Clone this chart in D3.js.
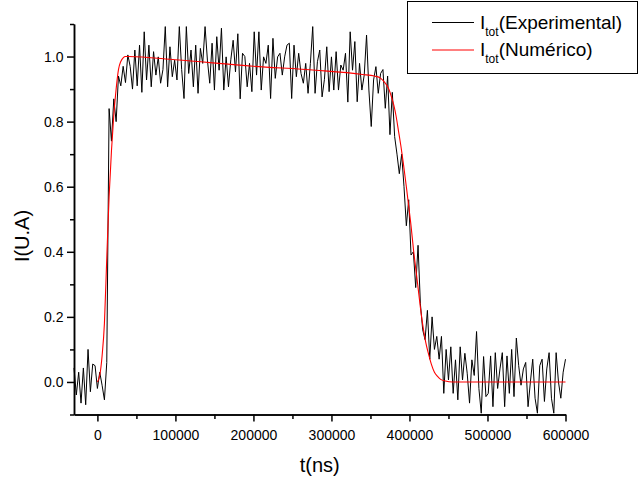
<!DOCTYPE html>
<html>
<head>
<meta charset="utf-8">
<script src="https://cdn.jsdelivr.net/npm/d3@7"></script>
<style>
  body { margin: 0; background: #fff; }
  svg { display: block; font-family: "Liberation Sans", Arial, sans-serif; }
</style>
</head>
<body>
<script>
const width = 639;
const height = 485;

// experimental samples, one every 3000 ns starting at -30000 ns
const expStart = -30000;
const expStep = 3000;
const expValues = [
  0.043, -0.04, 0.03, -0.065, 0.043, -0.07, 0.10, -0.03, 0.055, 0.05,
  -0.02, 0.03, -0.01, -0.055, 0.06, 0.84, 0.74, 0.87, 0.80, 0.94,
  0.91, 0.97, 0.92, 1.005, 0.97, 0.90, 1.02, 0.91, 1.035, 0.89,
  1.076, 0.928, 1.035, 0.907, 1.015, 0.943, 0.999, 0.918, 0.96, 1.092,
  0.907, 1.03, 0.938, 0.989, 0.928, 1.092, 0.96, 0.871, 1.092, 0.948,
  1.02, 0.907, 1.035, 0.887, 1.025, 0.979, 1.092, 0.989, 0.918, 1.041,
  0.897, 1.061, 0.958, 1.087, 0.897, 0.999, 0.907, 0.99, 1.05, 0.953,
  1.07, 0.87, 1.01, 1.00, 0.907, 0.979, 0.892, 1.076, 0.943, 1.076,
  0.897, 0.999, 0.979, 1.035, 0.871, 1.056, 0.933, 0.999, 1.01, 0.943,
  0.999, 1.035, 1.041, 0.871, 1.035, 0.938, 1.01, 0.948, 0.918, 0.979,
  0.887, 0.979, 1.092, 0.887, 0.984, 1.02, 0.876, 0.93, 1.03, 0.892,
  0.999, 0.897, 1.015, 0.897, 0.974, 0.958, 1.01, 0.86, 1.076, 0.958,
  1.046, 0.861, 0.979, 0.897, 0.943, 1.066, 0.897, 0.785, 0.928, 0.969,
  0.887, 0.948, 0.96, 0.841, 0.94, 0.76, 0.89, 0.754, 0.70, 0.64,
  0.70, 0.60, 0.48, 0.56, 0.39, 0.40, 0.29, 0.42, 0.24, 0.16,
  0.13, 0.22, 0.07, 0.20, 0.10, 0.14, 0.07, 0.14, -0.035, 0.10,
  0.006, 0.108, -0.035, 0.068, -0.055, 0.108, 0.006, 0.088, 0.027, -0.065,
  0.068, 0.02, 0.155, -0.02, -0.096, 0.078, -0.045, -0.035, 0.08, -0.076,
  0.09, -0.02, 0.04, 0.09, -0.076, 0.08, -0.035, 0.10, -0.045, 0.135,
  0.05, -0.01, 0.04, 0.06, -0.076, 0.0, 0.07, -0.05, -0.096, 0.05,
  0.07, -0.06, 0.04, 0.09, -0.05, -0.096, 0.09, 0.0, -0.05, 0.03,
  0.07
];

// numerical curve
const numTimes = [
  0, 3000, 6000, 9000, 12000, 15000, 18000, 21000, 24000, 27000, 30000, 33000, 36000,
  40000, 100000, 200000, 280000, 340000, 355000, 362000, 366000, 370000, 374000,
  377000, 380000, 383000, 386000, 389000, 392000, 396000, 399000, 402000, 405000,
  409000, 412000, 415000, 418000, 421000, 424000, 428000, 432000, 436000, 440000,
  446000, 455000, 600000
];
const numValues = [
  0, 0.02, 0.08, 0.18, 0.38, 0.57, 0.71, 0.82, 0.9, 0.96, 0.985, 0.996, 1.0,
  1.0, 0.99, 0.97, 0.958, 0.945, 0.94, 0.935, 0.927, 0.915, 0.897,
  0.875, 0.85, 0.815, 0.77, 0.725, 0.675, 0.6, 0.54, 0.48, 0.41,
  0.33, 0.27, 0.21, 0.16, 0.12, 0.09, 0.055, 0.03, 0.017, 0.008,
  0.003, 0, 0
];

const xMajor = [0, 100000, 200000, 300000, 400000, 500000, 600000];
const xMinor = [50000, 150000, 250000, 350000, 450000, 550000];
const yMajor = [0.0, 0.2, 0.4, 0.6, 0.8, 1.0];
const yMinor = [-0.1, 0.1, 0.3, 0.5, 0.7, 0.9, 1.1];

const legendLabels = [
  { main: "I", sub: "tot", rest: "(Experimental)", color: "#000" },
  { main: "I", sub: "tot", rest: "(Numérico)", color: "#ff0000" },
];

const x = d3.scaleLinear().domain([-30000, 600000]).range([74, 565.5]);
const y = d3.scaleLinear().domain([-0.1, 1.1]).range([414.5, 24]);

const svg = d3
  .select("body")
  .append("svg")
  .attr("width", width)
  .attr("height", height);

function drawAxes() {
  // minor ticks first, then major ticks with labels
  const yMinorAxis = d3.axisLeft(y).tickValues(yMinor).tickSize(4).tickFormat("").tickSizeOuter(0);
  const yAxis = d3.axisLeft(y).tickValues(yMajor).tickSize(7).tickPadding(3.5)
    .tickFormat(d3.format(".1f")).tickSizeOuter(0);
  const xMinorAxis = d3.axisBottom(x).tickValues(xMinor).tickSize(4.5).tickFormat("").tickSizeOuter(0);
  const xAxis = d3.axisBottom(x).tickValues(xMajor).tickSize(7).tickPadding(8.5)
    .tickFormat(d3.format("d")).tickSizeOuter(0);

  const gy = svg.append("g").attr("transform", "translate(74,0)");
  gy.append("g").call(yMinorAxis);
  gy.append("g").call(yAxis);

  const gx = svg.append("g").attr("transform", "translate(0,414.5)");
  gx.append("g").call(xMinorAxis);
  gx.append("g").call(xAxis);

  svg.selectAll(".domain, .tick line").attr("stroke", "#000").attr("stroke-width", 1.5);
  svg.selectAll(".tick text")
    .attr("fill", "#000")
    .attr("font-size", "14px")
    .attr("font-family", "Liberation Sans, Arial, sans-serif");

  // axis titles
  svg.append("text")
    .attr("x", x(285000))
    .attr("y", 472)
    .attr("text-anchor", "middle")
    .attr("font-size", "20px")
    .text("t(ns)");
  svg.append("text")
    .attr("transform", "translate(29,236) rotate(-90)")
    .attr("text-anchor", "middle")
    .attr("font-size", "20px")
    .text("I(U.A)");
}

function drawLines() {
  const line = d3.line().x((d) => x(d[0])).y((d) => y(d[1]));

  const expData = expValues.map((v, i) => [expStart + i * expStep, v]);
  svg.append("path")
    .datum(expData)
    .attr("fill", "none")
    .attr("stroke", "#000")
    .attr("stroke-width", 1)
    .attr("d", line);

  const numData = numTimes.map((t, i) => [t, numValues[i]]);
  svg.append("path")
    .datum(numData)
    .attr("fill", "none")
    .attr("stroke", "#ff0000")
    .attr("stroke-width", 1.1)
    .attr("d", line.curve(d3.curveMonotoneX));
}

function drawLegend() {
  const legend = svg.append("g").attr("class", "legend");
  legend.append("rect")
    .attr("x", 407.5)
    .attr("y", 1.5)
    .attr("width", 230)
    .attr("height", 72)
    .attr("fill", "#fff")
    .attr("stroke", "#000")
    .attr("stroke-width", 1);

  const rows = legend.selectAll(".row")
    .data(legendLabels)
    .enter()
    .append("g")
    .attr("transform", (d, i) => `translate(0,${i * 27.5})`);

  rows.append("line")
    .attr("x1", 432).attr("x2", 474)
    .attr("y1", 22.5).attr("y2", 22.5)
    .attr("stroke", (d) => d.color)
    .attr("stroke-width", 1);

  const label = rows.append("text")
    .attr("x", 480)
    .attr("y", 28.5)
    .attr("font-size", "19px");
  label.append("tspan").text((d) => d.main);
  label.append("tspan").attr("font-size", "12px").attr("dy", 7).text((d) => d.sub);
  label.append("tspan").attr("dy", -7).text((d) => d.rest);
}

drawLines();
drawAxes();
drawLegend();
</script>
</body>
</html>
